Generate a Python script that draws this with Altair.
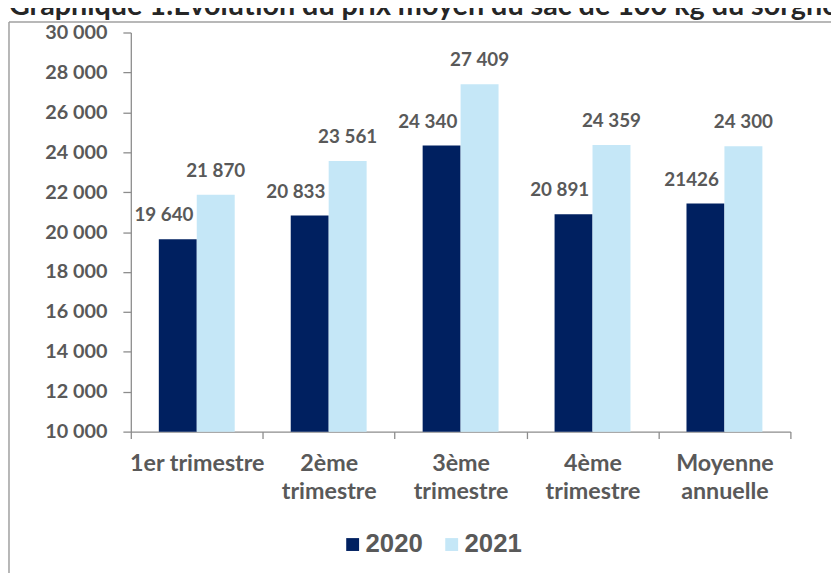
import altair as alt
import pandas as pd

TITLE = "Graphique 1:Evolution du prix moyen du sac de 100 kg du sorgho"
CATEGORIES = ["1er trimestre", "2ème trimestre", "3ème trimestre",
              "4ème trimestre", "Moyenne annuelle"]
YEARS = ["2020", "2021"]
VALUES_2020 = [19640, 20833, 24340, 20891, 21426]
VALUES_2021 = [21870, 23561, 27409, 24359, 24300]
LABELS_2020 = ["19 640", "20 833", "24 340", "20 891", "21426"]
LABELS_2021 = ["21 870", "23 561", "27 409", "24 359", "24 300"]
Y_MIN, Y_MAX = 10000, 30000
Y_TICKS = list(range(10000, 30001, 2000))

rows = []
for c, v, l in zip(CATEGORIES, VALUES_2020, LABELS_2020):
    rows.append({"category": c, "year": "2020", "value": v, "label": l})
for c, v, l in zip(CATEGORIES, VALUES_2021, LABELS_2021):
    rows.append({"category": c, "year": "2021", "value": v, "label": l})
df = pd.DataFrame(rows)

TEXT = "#595959"
AXIS = "#8C8C8C"
DARK = "#002060"
LIGHT = "#C5E7F7"

x_enc = alt.X(
    "category:N", sort=CATEGORIES,
    scale=alt.Scale(paddingInner=0, paddingOuter=0),
    axis=alt.Axis(
        title=None, labelAngle=0, tickBand="extent",
        labelExpr="datum.label == '1er trimestre' ? datum.label : split(datum.label, ' ')",
        labelFont="Lato", labelFontWeight="bold", labelFontSize=23.5,
        labelColor=TEXT, labelLineHeight=29, labelPadding=13,
        domainColor=AXIS, tickColor=AXIS, tickSize=7, domainWidth=1.3,
        tickWidth=1.3,
    ),
)
xo_enc = alt.XOffset("year:N", sort=YEARS,
                     scale=alt.Scale(paddingInner=0, paddingOuter=0.738))
y_enc = alt.Y(
    "value:Q",
    scale=alt.Scale(domain=[Y_MIN, Y_MAX], nice=False, zero=False),
    axis=alt.Axis(
        title=None, grid=False, values=Y_TICKS,
        labelExpr="replace(format(datum.value, ',d'), ',', ' ')",
        labelFont="Lato", labelFontWeight="bold", labelFontSize=20,
        labelColor=TEXT, labelPadding=16,
        domainColor=AXIS, tickColor=AXIS, tickSize=8, domainWidth=1.3,
        tickWidth=1.3,
    ),
)
color_enc = alt.Color(
    "year:N", sort=YEARS,
    scale=alt.Scale(domain=YEARS, range=[DARK, LIGHT]),
    legend=alt.Legend(
        title=None, orient="none", legendX=211, legendY=504,
        direction="horizontal", symbolType="square", symbolSize=169,
        symbolStrokeWidth=0, labelFont="Liberation Sans",
        labelFontWeight="bold", labelFontSize=26, labelColor=TEXT,
        labelOffset=0, columnPadding=16, padding=0,
    ),
)

base = alt.Chart(df)

bars = base.mark_bar().encode(
    x=x_enc, xOffset=xo_enc, y=y_enc, y2=alt.datum(Y_MIN), color=color_enc
)

lab_style = dict(font="Lato", fontWeight="bold", fontSize=19, color=TEXT,
                 baseline="middle", dy=-24)
labels_2020 = base.transform_filter(alt.datum.year == "2020").mark_text(
    dx=-14, **lab_style
).encode(x=x_enc, xOffset=xo_enc, y=y_enc, text="label:N")
labels_2021 = base.transform_filter(alt.datum.year == "2021").mark_text(
    **lab_style
).encode(x=x_enc, xOffset=xo_enc, y=y_enc, text="label:N")

deco = alt.Chart(alt.Data(values=[{"t": TITLE}]))
title = deco.mark_text(
    align="left", baseline="alphabetic", font="Lato", fontWeight="bold",
    fontSize=29, color="#262626"
).encode(x=alt.value(-123), y=alt.value(-18), text="t:N")
frame_top = deco.mark_rule(color="#A0A0A0", strokeWidth=1.5).encode(
    x=alt.value(-123), x2=alt.value(800), y=alt.value(-10.5)
)
frame_left = deco.mark_rule(color="#A0A0A0", strokeWidth=1.5).encode(
    x=alt.value(-123), y=alt.value(-10.5), y2=alt.value(700)
)

chart = alt.layer(
    frame_top, frame_left, bars, labels_2020, labels_2021, title
).properties(
    width=666, height=403,
    autosize=alt.AutoSizeParams(type="none"),
    padding={"left": 124, "top": 22, "right": 41, "bottom": 140},
).configure_view(stroke=None)

chart.save("out.html", embed_options={"renderer": "svg", "actions": False})
